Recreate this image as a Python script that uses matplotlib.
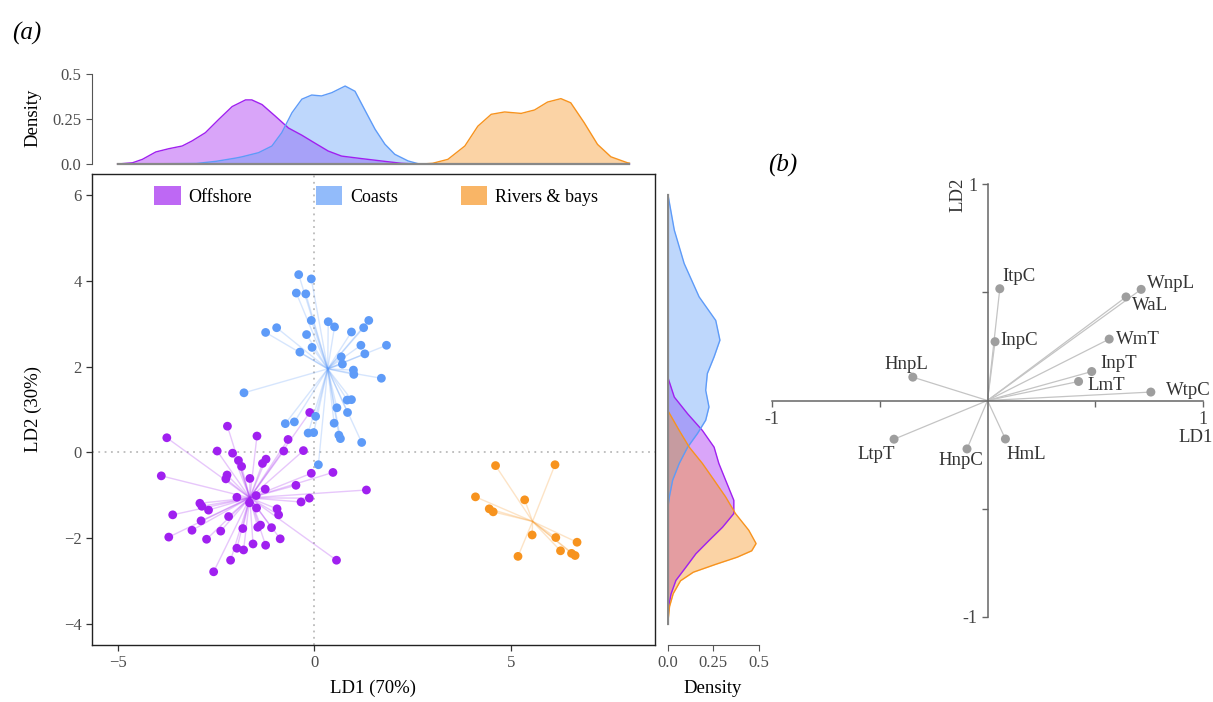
import matplotlib
matplotlib.use('Agg')
import matplotlib.pyplot as plt
import numpy as np
from matplotlib.patches import Patch
from matplotlib.collections import LineCollection

plt.rcParams['font.family'] = ['Liberation Serif', 'DejaVu Serif']
plt.rcParams['axes.unicode_minus'] = True

# ---------------- data ----------------
groups = ['Offshore', 'Coasts', 'Rivers & bays']

offshore_ld1 = [-0.12, -2.21, -3.75, -1.46, -0.67, -2.47, -2.08, -0.78, -0.28, -1.93,
                -1.85, -1.23, -1.32, -3.89, -2.22, -2.25, -1.64, -0.08, 0.47, -0.47,
                -1.25, 1.32, -1.97, -1.48, -0.13, -0.34, -1.65, -2.91, -2.86, -2.69,
                -1.47, -0.95, -0.91, -3.60, -2.18, -2.88, -3.11, -2.38, -1.82, -1.44,
                -1.37, -1.09, -3.70, -2.74, -0.87, -1.56, -1.24, -1.97, -1.80, -2.13,
                0.56, -2.56]
offshore_ld2 = [0.93, 0.61, 0.34, 0.38, 0.30, 0.03, -0.02, 0.03, 0.04, -0.19,
                -0.33, -0.16, -0.26, -0.55, -0.53, -0.62, -0.61, -0.49, -0.47, -0.77,
                -0.86, -0.88, -1.05, -1.01, -1.07, -1.16, -1.18, -1.19, -1.26, -1.35,
                -1.30, -1.32, -1.46, -1.46, -1.50, -1.60, -1.82, -1.84, -1.78, -1.75,
                -1.70, -1.76, -1.98, -2.03, -2.02, -2.14, -2.17, -2.24, -2.28, -2.52,
                -2.52, -2.79]

coasts_ld1 = [-0.40, -0.08, -0.46, -0.22, -0.08, 0.35, 0.51, 0.94, 1.25, 1.38,
              -0.20, -0.06, -0.37, 1.18, 1.83, 1.28, 0.68, 0.71, 0.99, 1.00,
              1.70, -1.24, -0.96, -1.79, 0.83, 0.94, 0.57, 0.84, 0.50, 0.62,
              0.66, 1.20, 0.03, -0.74, -0.51, -0.16, -0.02, 0.10]
coasts_ld2 = [4.15, 4.05, 3.72, 3.70, 3.08, 3.05, 2.93, 2.81, 2.91, 3.08,
              2.75, 2.45, 2.34, 2.50, 2.50, 2.30, 2.23, 2.06, 1.92, 1.82,
              1.73, 2.80, 2.91, 1.39, 1.22, 1.23, 1.04, 0.93, 0.68, 0.40,
              0.32, 0.23, 0.84, 0.67, 0.71, 0.45, 0.46, -0.29]

rivers_ld1 = [4.60, 6.11, 4.09, 5.34, 4.44, 4.54, 5.53, 6.13, 6.67, 6.25, 6.53, 6.62, 5.17]
rivers_ld2 = [-0.31, -0.29, -1.04, -1.11, -1.32, -1.39, -1.93, -1.99, -2.10, -2.30, -2.36, -2.41, -2.43]

# marginal densities along LD1 (top)
dtop_off_x = [-5.0, -4.62, -4.37, -4.03, -3.70, -3.36, -3.11, -2.77, -2.43, -2.09, -1.75, -1.59,
              -1.33, -1.00, -0.66, -0.32, 0.02, 0.35, 0.69, 1.20, 1.70, 2.21, 2.63, 8.0]
dtop_off_d = [0.0, 0.007, 0.026, 0.067, 0.085, 0.100, 0.128, 0.174, 0.248, 0.319, 0.356, 0.356,
              0.330, 0.267, 0.200, 0.160, 0.115, 0.072, 0.044, 0.030, 0.017, 0.004, 0.0, 0.0]
dtop_coa_x = [-5.0, -3.0, -2.5, -2.0, -1.84, -1.42, -1.08, -0.83, -0.57, -0.32, -0.07, 0.18,
              0.44, 0.78, 1.03, 1.28, 1.54, 1.79, 2.04, 2.38, 2.63, 3.0, 8.0]
dtop_coa_d = [0.0, 0.003, 0.015, 0.033, 0.040, 0.063, 0.100, 0.174, 0.285, 0.360, 0.383, 0.378,
              0.396, 0.433, 0.404, 0.300, 0.193, 0.110, 0.054, 0.017, 0.002, 0.0, 0.0]
dtop_riv_x = [-5.0, 2.72, 3.0, 3.39, 3.82, 4.15, 4.49, 4.83, 5.25, 5.59, 5.92, 6.26, 6.51,
              6.85, 7.19, 7.53, 7.95, 8.0]
dtop_riv_d = [0.0, 0.0, 0.004, 0.026, 0.100, 0.210, 0.276, 0.289, 0.281, 0.300, 0.344, 0.363, 0.340,
              0.230, 0.109, 0.040, 0.007, 0.005]

# marginal densities along LD2 (right)
dright_off_y = [6.0, 1.76, 1.29, 0.90, 0.51, 0.12, -0.26, -0.65, -1.12, -1.43, -1.75, -2.06,
                -2.37, -2.68, -2.99, -3.31, -3.61, -4.0]
dright_off_d = [0.0, 0.0, 0.036, 0.109, 0.190, 0.254, 0.280, 0.317, 0.362, 0.362, 0.300, 0.226,
                0.154, 0.100, 0.045, 0.018, 0.005, 0.0]
dright_coa_y = [6.0, 5.19, 4.41, 3.63, 3.08, 2.62, 2.23, 1.84, 1.45, 1.06, 0.75, 0.44, 0.12,
                -0.26, -0.65, -1.04, -1.31, -4.0]
dright_coa_d = [0.002, 0.036, 0.090, 0.172, 0.263, 0.286, 0.254, 0.217, 0.208, 0.226, 0.208, 0.163,
                0.109, 0.063, 0.027, 0.009, 0.0, 0.0]
dright_riv_y = [6.0, 0.98, 0.51, 0.12, -0.26, -0.65, -1.04, -1.43, -1.82, -2.13, -2.30, -2.45,
                -2.62, -2.80, -3.0, -3.3, -3.6, -4.0]
dright_riv_d = [0.0, 0.0, 0.063, 0.118, 0.190, 0.254, 0.317, 0.371, 0.444, 0.484, 0.460, 0.380,
                0.260, 0.140, 0.070, 0.030, 0.010, 0.0]

# panel (b) loadings
load_names = ['ItpC', 'InpC', 'HnpL', 'WnpL', 'WaL', 'WmT', 'InpT', 'LmT', 'WtpC', 'LtpT', 'HnpC', 'HmL']
load_ld1 = [0.057, 0.035, -0.346, 0.712, 0.642, 0.564, 0.483, 0.422, 0.757, -0.433, -0.095, 0.083]
load_ld2 = [0.517, 0.272, 0.108, 0.514, 0.479, 0.284, 0.134, 0.088, 0.039, -0.179, -0.224, -0.178]

# ---------------- style ----------------
W, H = 1213, 702
col = {'Offshore': '#A020F0', 'Coasts': '#5E9BF8', 'Rivers & bays': '#F7931E'}
tick_col = '#4D4D4D'


def frac(l, t, r, b):
    return [l / W, 1 - b / H, (r - l) / W, (b - t) / H]


fig = plt.figure(figsize=(W / 100, H / 100), dpi=100)
ax = fig.add_axes(frac(92, 174, 655, 645))
ax_top = fig.add_axes(frac(92, 70, 655, 166))
ax_right = fig.add_axes(frac(667, 174, 759, 645))
ax_b = fig.add_axes(frac(771.7, 184.3, 1203.3, 616.7))

# ---------------- main scatter ----------------
scat = {'Offshore': (offshore_ld1, offshore_ld2),
        'Coasts': (coasts_ld1, coasts_ld2),
        'Rivers & bays': (rivers_ld1, rivers_ld2)}
ax.axhline(0, color='#BBBBBB', ls=(0, (1, 2.5)), lw=1.3, zorder=0)
ax.axvline(0, color='#BBBBBB', ls=(0, (1, 2.5)), lw=1.3, zorder=0)
for g in groups:
    xs, ys = np.array(scat[g][0]), np.array(scat[g][1])
    cx, cy = xs.mean(), ys.mean()
    segs = [[(cx, cy), (x, y)] for x, y in zip(xs, ys)]
    ax.add_collection(LineCollection(segs, colors=col[g], alpha=0.25, lw=1.0, zorder=1))
    ax.scatter(xs, ys, s=40, color=col[g], edgecolors='none', zorder=3)

ax.set_xlim(-5.65, 8.65)
ax.set_ylim(-4.5, 6.5)
ax.set_xticks([-5, 0, 5])
ax.set_yticks([-4, -2, 0, 2, 4, 6])
ax.tick_params(direction='out', length=4, width=0.9, color='#333333',
               labelcolor=tick_col, labelsize=12)
for s in ax.spines.values():
    s.set_color('#222222')
    s.set_linewidth(1.0)
ax.set_xlabel('LD1 (70%)', fontsize=13.5, labelpad=6)
ax.set_ylabel('LD2 (30%)', fontsize=13.5, labelpad=16)

handles = [Patch(facecolor=col[g], alpha=0.68, edgecolor='none', label=g) for g in groups]
ax.legend(handles=handles, loc='upper center', bbox_to_anchor=(0.505, 0.997), ncol=3,
          frameon=False, fontsize=13, handlelength=1.45, handleheight=1.2,
          handletextpad=0.45, columnspacing=3.5, borderaxespad=0.2)

# ---------------- top density ----------------
tops = {'Offshore': (dtop_off_x, dtop_off_d),
        'Coasts': (dtop_coa_x, dtop_coa_d),
        'Rivers & bays': (dtop_riv_x, dtop_riv_d)}
for g in groups:
    x, d = tops[g]
    ax_top.fill_between(x, d, 0, color=col[g], alpha=0.4, lw=0)
    ax_top.plot(x, d, color=col[g], lw=1.0)
allx = np.concatenate([tops[g][0] for g in groups])
ax_top.plot([allx.min(), allx.max()], [0, 0], color='#888888', lw=1.6)
ax_top.set_xlim(-5.65, 8.65)
ax_top.set_ylim(-0.011, 0.522)
ax_top.set_yticks([0, 0.25, 0.5])
ax_top.set_yticklabels(['0.0', '0.25', '0.5'])
ax_top.set_xticks([])
for k in ['top', 'right', 'bottom']:
    ax_top.spines[k].set_visible(False)
ax_top.spines['left'].set_bounds(0, 0.5)
ax_top.spines['left'].set_color('#555555')
ax_top.tick_params(axis='y', direction='out', length=4, color='#555555',
                   labelcolor=tick_col, labelsize=12)
ax_top.set_ylabel('Density', fontsize=13.5, labelpad=8)
ax_top.patch.set_alpha(0)

# ---------------- right density ----------------
rights = {'Offshore': (dright_off_y, dright_off_d),
          'Coasts': (dright_coa_y, dright_coa_d),
          'Rivers & bays': (dright_riv_y, dright_riv_d)}
for g in groups:
    y, d = rights[g]
    ax_right.fill_betweenx(y, d, 0, color=col[g], alpha=0.4, lw=0)
    ax_right.plot(d, y, color=col[g], lw=1.0)
ally = np.concatenate([rights[g][0] for g in groups])
ax_right.plot([0, 0], [ally.min(), ally.max()], color='#888888', lw=1.6)
ax_right.set_ylim(-4.5, 6.5)
ax_right.set_xlim(-0.004, 0.5)
ax_right.set_xticks([0, 0.25, 0.5])
ax_right.set_xticklabels(['0.0', '0.25', '0.5'])
ax_right.set_yticks([])
for k in ['top', 'right', 'left']:
    ax_right.spines[k].set_visible(False)
ax_right.spines['bottom'].set_bounds(0, 0.5)
ax_right.spines['bottom'].set_color('#555555')
ax_right.tick_params(axis='x', direction='out', length=4, color='#555555',
                     labelcolor=tick_col, labelsize=12)
ax_right.set_xlabel('Density', fontsize=13.5, labelpad=6)
ax_right.patch.set_alpha(0)

# ---------------- panel (b) ----------------
ax_b.set_xlim(-1, 1)
ax_b.set_ylim(-1, 1)
for k in ['top', 'right']:
    ax_b.spines[k].set_visible(False)
for k in ['left', 'bottom']:
    ax_b.spines[k].set_position(('data', 0))
    ax_b.spines[k].set_color('#666666')
    ax_b.spines[k].set_linewidth(1.1)
ax_b.set_xticks([-1, -0.5, 0.5, 1])
ax_b.set_xticklabels(['-1', '', '', '1'])
ax_b.set_yticks([-1, -0.5, 0.5, 1])
ax_b.set_yticklabels(['-1', '', '', '1'])
ax_b.tick_params(direction='out', length=4, width=1, color='#666666',
                 labelcolor='#444444', labelsize=13)
ax_b.patch.set_alpha(0)

lsegs = [[(0, 0), (x, y)] for x, y in zip(load_ld1, load_ld2)]
ax_b.add_collection(LineCollection(lsegs, colors='#C4C4C4', lw=0.9, zorder=1))
ax_b.scatter(load_ld1, load_ld2, s=42, color='#9E9E9E', edgecolors='none', zorder=3, clip_on=False)

label_offsets = {'ItpC': (19, 12), 'InpC': (24, 1), 'HnpL': (-6, 13), 'WnpL': (30, 6),
                 'WaL': (24, -9), 'WmT': (29, 0), 'InpT': (27, 8), 'LmT': (28, -4),
                 'WtpC': (37, 2), 'LtpT': (-18, -15), 'HnpC': (-6, -12), 'HmL': (21, -16)}
for n, x, y in zip(load_names, load_ld1, load_ld2):
    ax_b.annotate(n, (x, y), xytext=label_offsets[n], textcoords='offset pixels',
                  ha='center', va='center', fontsize=13.5, color='#333333')
ax_b.text(-0.139, 0.95, 'LD2', rotation=90, ha='center', va='center', fontsize=13.5, color='#333333')
ax_b.text(0.965, -0.17, 'LD1', ha='center', va='center', fontsize=13.5, color='#333333')

# panel tags
fig.text(12 / W, 1 - 33 / H, '(a)', fontsize=18, style='italic', ha='left', va='center')
fig.text(768 / W, 1 - 165 / H, '(b)', fontsize=18, style='italic', ha='left', va='center')

fig.savefig('out.png', dpi=100)
